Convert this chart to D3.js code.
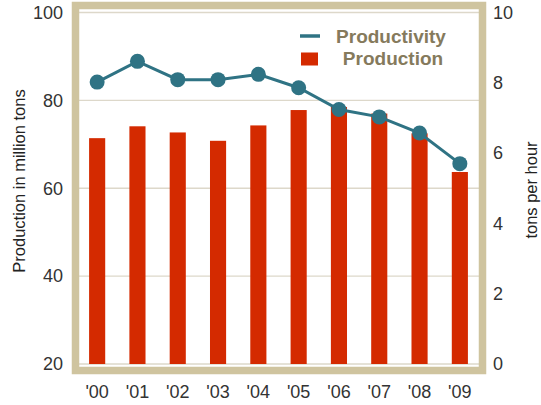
<!DOCTYPE html>
<html>
<head>
<meta charset="utf-8">
<script src="https://cdn.jsdelivr.net/npm/d3@7"></script>
<style>
  html, body { margin: 0; padding: 0; background: #fff; }
  svg { display: block; }
  text { font-family: "Liberation Sans", Arial, sans-serif; }
</style>
</head>
<body>
<svg id="chart" width="541" height="405"></svg>
<script>
const years = ["'00", "'01", "'02", "'03", "'04", "'05", "'06", "'07", "'08", "'09"];
const production = [71.4, 74.1, 72.7, 70.8, 74.3, 77.8, 78.5, 77.0, 72.5, 63.7];
const productivity = [8.02, 8.61, 8.09, 8.09, 8.24, 7.86, 7.24, 7.03, 6.57, 5.70];
const leftTicks = [20, 40, 60, 80, 100];
const rightTicks = [0, 2, 4, 6, 8, 10];
const seriesNames = ["Productivity", "Production"];

const svg = d3.select("#chart");
const inner = { left: 79, right: 479, top: 9, bottom: 367 };

const x = d3.scaleBand().domain(years).range([77, 480]).paddingInner(0.6).paddingOuter(0.3);
const yL = d3.scaleLinear().domain([20, 100]).range([364, 12.5]);
const yR = d3.scaleLinear().domain([0, 10]).range([364, 12.5]);

// gridlines
svg.append("g").selectAll("line").data(leftTicks).join("line")
  .attr("x1", inner.left).attr("x2", inner.right)
  .attr("y1", d => yL(d)).attr("y2", d => yL(d))
  .attr("stroke", "#ddd8ca").attr("stroke-width", 1.3);

// bars
svg.append("g").selectAll("rect").data(production).join("rect")
  .attr("x", (d, i) => x(years[i]))
  .attr("width", x.bandwidth())
  .attr("y", d => yL(d))
  .attr("height", d => yL(20) - yL(d))
  .attr("fill", "#d42a00");

// line
const line = d3.line().x((d, i) => x(years[i]) + x.bandwidth() / 2).y(d => yR(d));
svg.append("path").datum(productivity)
  .attr("d", line).attr("fill", "none")
  .attr("stroke", "#2f7384").attr("stroke-width", 3);
svg.append("g").selectAll("circle").data(productivity).join("circle")
  .attr("cx", (d, i) => x(years[i]) + x.bandwidth() / 2)
  .attr("cy", d => yR(d))
  .attr("r", 7.5)
  .attr("fill", "#2f7384");

// frame
svg.append("rect")
  .attr("x", 75.5).attr("y", 5.5).attr("width", 407).attr("height", 365)
  .attr("fill", "none").attr("stroke", "#cfc49f").attr("stroke-width", 7.5);

// axes
const axL = svg.append("g").attr("transform", "translate(70,0)")
  .call(d3.axisLeft(yL).tickValues(leftTicks).tickSize(0).tickPadding(7));
const axR = svg.append("g").attr("transform", "translate(486,0)")
  .call(d3.axisRight(yR).tickValues(rightTicks).tickSize(0).tickPadding(7));
const axB = svg.append("g").attr("transform", "translate(0,381)")
  .call(d3.axisBottom(x).tickSize(0).tickPadding(4));
[axL, axR, axB].forEach(g => {
  g.select(".domain").remove();
  g.selectAll("text").attr("font-size", 18).attr("fill", "#333")
    .attr("font-family", "'Liberation Sans', Arial, sans-serif");
});

// axis titles
svg.append("text")
  .attr("transform", "translate(25,181) rotate(-90)")
  .attr("text-anchor", "middle").attr("font-size", 16.5).attr("fill", "#222")
  .text("Production in million tons");
svg.append("text")
  .attr("transform", "translate(537,190) rotate(-90)")
  .attr("text-anchor", "middle").attr("font-size", 16.5).attr("fill", "#222")
  .text("tons per hour");

// legend
const lg = svg.append("g");
lg.append("line").attr("x1", 300).attr("x2", 320).attr("y1", 36).attr("y2", 36)
  .attr("stroke", "#2f7384").attr("stroke-width", 3.5);
lg.append("rect").attr("x", 301).attr("y", 52.5).attr("width", 17).attr("height", 13)
  .attr("fill", "#d42a00");
lg.append("text").attr("x", 391).attr("y", 43).attr("text-anchor", "middle")
  .attr("font-size", 19).attr("font-weight", "bold").attr("fill", "#857a5c")
  .text(seriesNames[0]);
lg.append("text").attr("x", 393).attr("y", 65).attr("text-anchor", "middle")
  .attr("font-size", 19).attr("font-weight", "bold").attr("fill", "#857a5c")
  .text(seriesNames[1]);
</script>
</body>
</html>
